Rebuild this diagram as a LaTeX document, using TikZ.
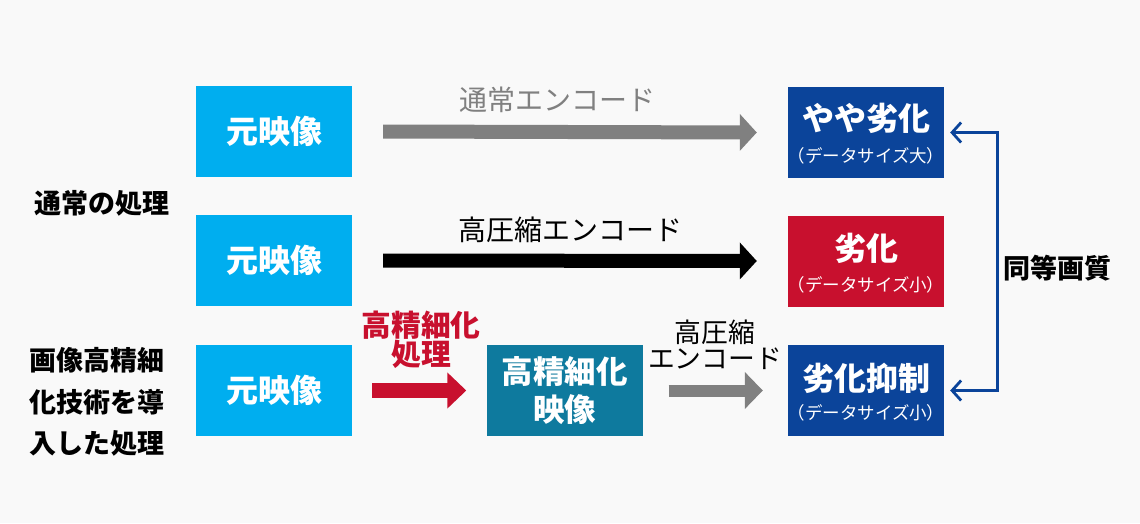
\documentclass[tikz,border=0pt]{standalone}
\usepackage{fontspec}
\setmainfont{Noto Sans CJK JP}
\usetikzlibrary{arrows.meta}
\definecolor{bg}{HTML}{F9F9F9}
\definecolor{cyanb}{HTML}{00AEEF}
\definecolor{navy}{HTML}{0B449A}
\definecolor{redb}{HTML}{C8102E}
\definecolor{tealb}{HTML}{0E7A9E}
\definecolor{grayA}{HTML}{808080}
\begin{document}
\begin{tikzpicture}[x=1pt,y=-1pt,
  box/.style={minimum width=156pt,minimum height=91pt,inner sep=0pt,text=white,
    font=\fontsize{32}{38}\selectfont\bfseries,align=center},
  src/.style={box,fill=cyanb},
  res/.style={box,fill=navy},
  bigt/.style={text=white,inner sep=0pt,font=\fontsize{32}{32}\selectfont\bfseries},
  smallt/.style={text=white,inner sep=0pt,font=\fontsize{17.5}{18}\selectfont},
  barrow/.style={line width=14pt,-{Triangle[length=17pt,width=36pt]}},
  side/.style={inner sep=0pt,anchor=west,font=\fontsize{27}{41.5}\selectfont\bfseries,align=left},
  lbl/.style={inner sep=0pt,font=\fontsize{26}{27}\selectfont,align=center}
]
\fill[bg] (0,0) rectangle (1140,523);
\useasboundingbox (0,0) rectangle (1140,523);

% source boxes
\node[src] (s1) at (274,131.5) {元映像};
\node[src] (s2) at (274,260.5) {元映像};
\node[src] (s3) at (274,390.5) {元映像};
\node[box,fill=tealb,font=\fontsize{31.5}{38}\selectfont\bfseries] (m) at (564.5,390.5) {高精細化\\映像};

% result boxes
\node[res] (r1) at (866,132.5) {};
\node[box,fill=redb] (r2) at (866,261) {};
\node[res] (r3) at (866,390.5) {};
\node[bigt] (r1a) at ([yshift=14pt]r1.center) {やや劣化};
\node[smallt] (r1b) at ([yshift=-23pt]r1.center) {（データサイズ大）};
\node[bigt] (r2a) at ([yshift=13pt]r2.center) {劣化};
\node[smallt] (r2b) at ([yshift=-24pt]r2.center) {（データサイズ小）};
\node[bigt] (r3a) at ([yshift=12pt]r3.center) {劣化抑制};
\node[smallt] (r3b) at ([yshift=-22pt]r3.center) {（データサイズ小）};

% arrows
\draw[barrow,grayA] ([xshift=31pt]s1.east) -- ([xshift=-31pt]r1.west);
\draw[barrow,black] ([xshift=31pt]s2.east) -- ([xshift=-31pt]r2.west);
\draw[barrow,redb,line width=15pt,-{Triangle[length=19pt,width=35pt]}] ([xshift=20pt]s3.east) -- ([xshift=-20pt]m.west);
\draw[barrow,grayA,line width=12pt,-{Triangle[length=18pt,width=36pt]}] ([xshift=26pt]m.east) -- ([xshift=-25pt]r3.west);

% arrow labels
\node[lbl,text=grayA,font=\fontsize{28}{28}\selectfont] (t1) at (557,100) {通常エンコード};
\node[lbl,font=\fontsize{28}{28}\selectfont] (t2) at (570,230) {高圧縮エンコード};
\node[lbl,text=redb,font=\fontsize{29.8}{26}\selectfont\bfseries] (t3) at (421,340) {高精細化\\処理};
\node[lbl,font=\fontsize{26.8}{26}\selectfont] (t4) at (715,345) {高圧縮\\エンコード};

% bracket
\draw[navy,line width=2.8pt,{Straight Barb[length=9pt,width=20pt]}-{Straight Barb[length=9pt,width=20pt]}]
  ([xshift=6pt]r1.east) -- ++(47pt,0) |- ([xshift=6pt]r3.east);
\node[inner sep=0pt,font=\fontsize{27}{27}\selectfont\bfseries] (eq) at (1057,268) {同等画質};

% side labels
\node[side] (L1) at (34,203) {通常の処理};
\node[side] (L2) at (29,402) {画像高精細\\化技術を導\\入した処理};
\end{tikzpicture}
\end{document}
